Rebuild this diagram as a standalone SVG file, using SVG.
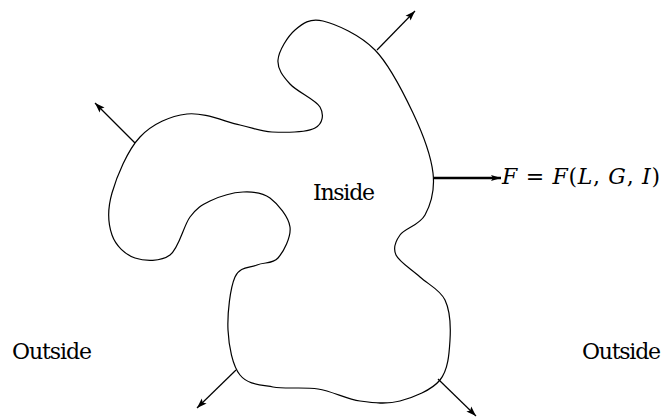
<svg xmlns="http://www.w3.org/2000/svg" width="665" height="418" viewBox="0 0 665 418">
<style>
.outline{fill:none;stroke:#000;stroke-width:1.2;stroke-linejoin:round}
.thin{stroke:#000;stroke-width:1.2;fill:none}
.thick{stroke:#000;stroke-width:2.6;fill:none}
.lbl{font-family:'DejaVu Serif',serif;font-size:22px;fill:#000}
.it{font-style:italic}
</style>
<defs>
<marker id="ah" markerUnits="userSpaceOnUse" markerWidth="12" markerHeight="10" refX="10" refY="5" orient="auto" viewBox="0 0 12 10">
<path d="M0,1.5 L10,5 L0,8.5 L2,5 Z" fill="#000"/>
</marker>
<marker id="ahT" markerUnits="userSpaceOnUse" markerWidth="12" markerHeight="10" refX="10" refY="5" orient="auto" viewBox="0 0 12 10">
<path d="M0,2 L10,5 L0,8 L2,5 Z" fill="#000"/>
</marker>
</defs>
<g id="region">
<path class="outline" d="M 323 21 C 336.3 24.3, 360 34.7, 375 50 C 390 65.3, 403.3 92.5, 413 113 C 422.7 133.5, 431 156, 433 173 C 435 190, 430.5 204.7, 425 215 C 419.5 225.3, 404.8 228.3, 400 235 C 395.2 241.7, 392.7 248, 396 255 C 399.3 262, 411.8 269.5, 420 277 C 428.2 284.5, 440 289.5, 445 300 C 450 310.5, 450.8 326.7, 450 340 C 449.2 353.3, 448.3 369.8, 440 380 C 431.7 390.2, 413.3 397.5, 400 401 C 386.7 404.5, 373.7 403, 360 401 C 346.3 399, 332.5 391.3, 318 389 C 303.5 386.7, 286 389.3, 273 387 C 260 384.7, 247.5 384.5, 240 375 C 232.5 365.5, 228.8 346.3, 228 330 C 227.2 313.7, 230.2 287.8, 235 277 C 239.8 266.2, 249.8 268.2, 257 265 C 264.2 261.8, 272.5 264.3, 278 258 C 283.5 251.7, 291.3 237, 290 227 C 288.7 217, 277.8 203.8, 270 198 C 262.2 192.2, 253 191.5, 243 192 C 233 192.5, 218.8 196.8, 210 201 C 201.2 205.2, 196.7 208, 190 217 C 183.3 226, 179.2 248.2, 170 255 C 160.8 261.8, 144.7 261.3, 135 258 C 125.3 254.7, 115.8 245.8, 112 235 C 108.2 224.2, 107.3 209.3, 112 193 C 116.7 176.7, 127.5 150.2, 140 137 C 152.5 123.8, 170.3 116, 187 114 C 203.7 112, 225.8 122, 240 125 C 254.2 128, 259.5 131.5, 272 132 C 284.5 132.5, 307 132.2, 315 128 C 323 123.8, 324.2 114.3, 320 107 C 315.8 99.7, 297 91.8, 290 84 C 283 76.2, 277.2 69, 278 60 C 278.8 51, 287.5 36.5, 295 30 C 302.5 23.5, 309.7 17.7, 323 21 Z"/>
</g>
<g id="connectors">
<line class="thin" x1="377" y1="50" x2="415" y2="11" marker-end="url(#ah)"/>
<line class="thin" x1="135" y1="143" x2="95" y2="103" marker-end="url(#ah)"/>
<line class="thin" x1="236" y1="370" x2="197" y2="408" marker-end="url(#ah)"/>
<line class="thin" x1="438" y1="379" x2="476" y2="416" marker-end="url(#ah)"/>
<line class="thick" x1="434" y1="178" x2="501" y2="178" marker-end="url(#ahT)"/>
</g>
<g id="inside"><text class="lbl" x="313" y="200" textLength="62">Inside</text></g>
<g id="outside-left"><text class="lbl" x="12" y="359" textLength="80">Outside</text></g>
<g id="outside-right"><text class="lbl" x="582" y="359" textLength="79">Outside</text></g>
<g id="force"><text class="lbl" x="502" y="184" textLength="158" lengthAdjust="spacing"><tspan class="it">F</tspan> = <tspan class="it">F</tspan>(<tspan class="it">L</tspan>, <tspan class="it">G</tspan>, <tspan class="it">I</tspan>)</text></g>
</svg>
